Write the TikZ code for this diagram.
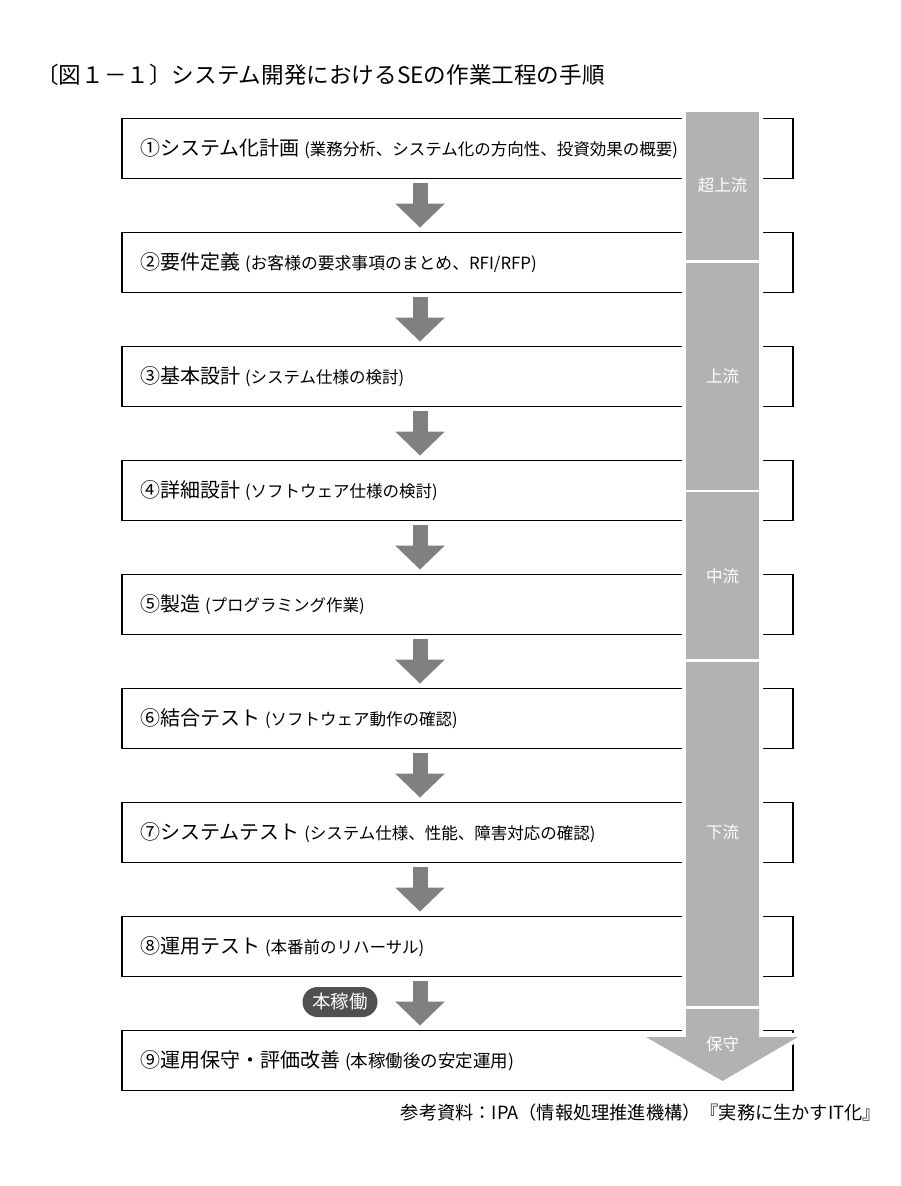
\documentclass[tikz,border=0pt]{standalone}
\usepackage{fontspec}
\setmainfont{Noto Sans CJK JP}
\usetikzlibrary{arrows.meta}
\definecolor{barfill}{RGB}{178,178,178}
\definecolor{flowgray}{RGB}{128,128,128}
\definecolor{pilldark}{RGB}{80,80,80}
\tikzset{
  %工程の枠
  stagebox/.style  = {draw=black, line width=1.8pt, minimum width=671pt,
                      minimum height=60pt, text width=635pt, inner xsep=18pt,
                      inner ysep=0pt, align=left},
  % 工程間の矢印
  flowarrow/.style = {-{Triangle[width=48pt,length=24pt]}, line width=15pt,
                      draw=flowgray, shorten <=4pt, shorten >=4pt},
  % 右側の帯
  barlab/.style    = {text=white, font=\fontsize{16.5}{17}\selectfont},
  pill/.style      = {fill=pilldark, text=white, rounded corners=15pt,
                      minimum width=75pt, minimum height=30pt, inner sep=0pt,
                      font=\fontsize{18.5}{19}\selectfont},
  titlelab/.style  = {inner sep=0pt, font=\fontsize{22.6}{23}\selectfont},
  srclab/.style    = {inner sep=0pt, font=\fontsize{18.2}{19}\selectfont},
}
\newcommand{\stagetext}[3]{{\fontsize{20}{22}\selectfont #1}\hspace{5pt}{\fontsize{#3}{17}\selectfont #2}}

\begin{document}
\begin{tikzpicture}[x=1pt,y=-1pt]
  \fill[white] (0,0) rectangle (900,1186);
  \useasboundingbox (0,0) rectangle (900,1186);
  % タイトル
  \node[titlelab, anchor=west] (title) at (36,75) {〔図１－１〕システム開発におけるSEの作業工程の手順};
  % 工程
  \foreach \i/\main/\sub/\subsize in {
      1/①システム化計画/{(業務分析、システム化の方向性、投資効果の概要)}/16.5,
      2/②要件定義/{(お客様の要求事項のまとめ、RFI/RFP)}/16.8,
      3/③基本設計/{(システム仕様の検討)}/16.5,
      4/④詳細設計/{(ソフトウェア仕様の検討)}/16.5,
      5/⑤製造/{(プログラミング作業)}/16.5,
      6/⑥結合テスト/{(ソフトウェア動作の確認)}/16.5,
      7/⑦システムテスト/{(システム仕様、性能、障害対応の確認)}/16.5,
      8/⑧運用テスト/{(本番前のリハーサル)}/16.5,
      9/⑨運用保守・評価改善/{(本稼働後の安定運用)}/17.5}
    \node[stagebox] (b\i) at (457.5,{148.5+114*(\i-1)}) {\stagetext{\main}{\sub}{\subsize}};
  % 矢印
  \coordinate (ax) at (420,0);
  \foreach \i [evaluate=\i as \j using int(\i+1)] in {1,...,8}
    \draw[flowarrow] (b\i.south -| ax) -- (b\j.north -| ax);
  % 右側の帯
  \filldraw[white, line width=8pt, line join=round]
    (686,112) -- (686,1037) -- (646,1037) -- (722.5,1081) -- (798,1037)
    -- (759,1037) -- (759,112) -- cycle;
  \foreach \top/\bot in {112/260, 263/490, 492/659, 662/1006}
    \fill[barfill] (686,\top) rectangle (759,\bot);
  \fill[barfill] (686,1009) -- (686,1037) -- (646,1037) -- (722.5,1081)
    -- (798,1037) -- (759,1037) -- (759,1009) -- cycle;
  \node[barlab] (superup) at (722.5,185) {超上流};
  \node[barlab] (upstream) at (722.5,376) {上流};
  \node[barlab] (midstream) at (722.5,576) {中流};
  \node[barlab] (downstream) at (722.5,832) {下流};
  \node[barlab] (maint) at (722.5,1044) {保守};
  % 本稼働
  \node[pill] (golive) at (340,1002) {本稼働};
  % 出典
  \node[srclab, anchor=east] (source) at (881,1113) {参考資料：IPA（情報処理推進機構）『実務に生かすIT化』};
\end{tikzpicture}
\end{document}
